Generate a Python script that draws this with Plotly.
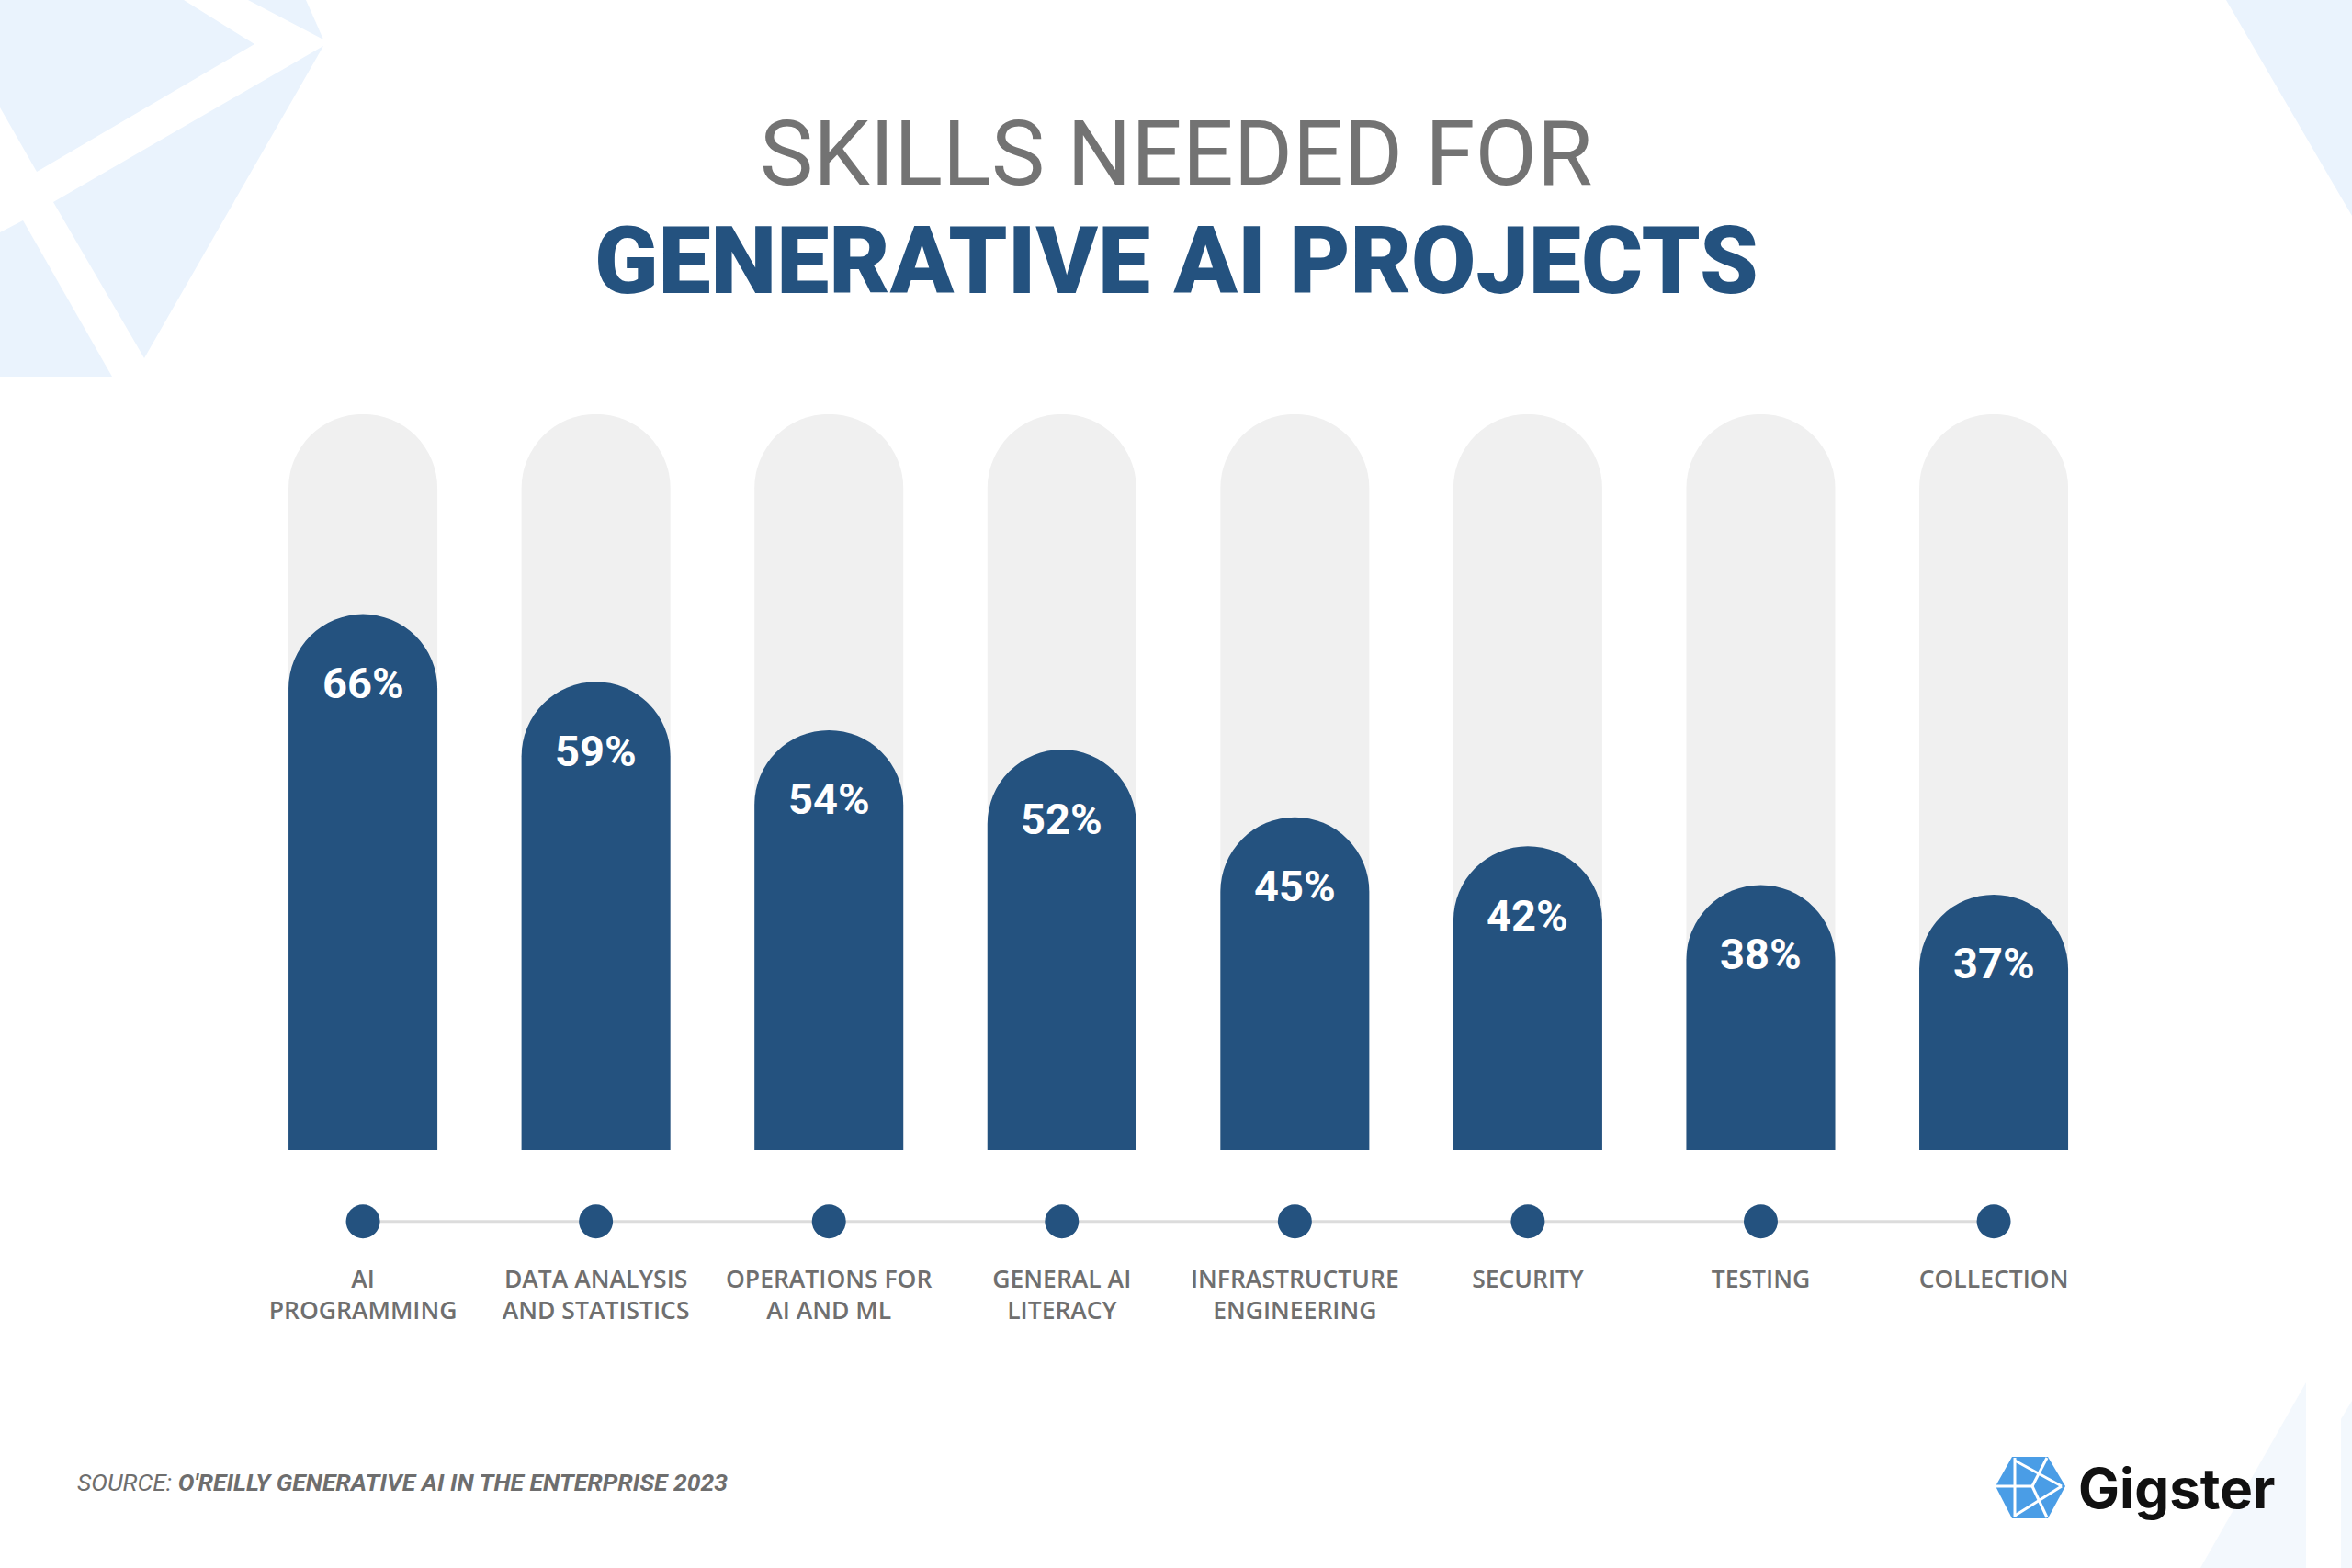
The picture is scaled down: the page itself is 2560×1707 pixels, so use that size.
import plotly.graph_objects as go

# ---------------- data ----------------
skills = ["AI Programming", "Data Analysis and Statistics", "Operations for AI and ML",
          "General AI Literacy", "Infrastructure Engineering", "Security", "Testing", "Collection"]
skill_labels = ["AI<br>PROGRAMMING", "DATA ANALYSIS<br>AND STATISTICS", "OPERATIONS FOR<br>AI AND ML",
                "GENERAL AI<br>LITERACY", "INFRASTRUCTURE<br>ENGINEERING", "SECURITY", "TESTING", "COLLECTION"]
values = [66, 59, 54, 52, 45, 42, 38, 37]
value_text = [f"{v}%" for v in values]

# ---------------- styling constants ----------------
W, H = 2560, 1707
NAVY = "#24527f"
TRACK = "#f0f0f0"
GRAY_TXT = "#6f6f6f"
Y_MIN, Y_MAX = 10.6, 86.7          # visible value window of the bar area
track = [Y_MAX] * len(values)      # full-height grey track behind each bar
DOT_LEVEL = 0.829                  # level of the dot rail in the lower strip (0..1)
LABEL_LEVEL = 0.714                # top of the category labels

X_DOM = [0.1048, 0.8972]
Y_DOM = [0.2666, 0.7360]


def px(x, y):
    return f"{x / W:.5f},{1 - y / H:.5f}"


def poly(points):
    return "M " + " L ".join(px(x, y) for x, y in points) + " Z"


fig = go.Figure()

fig.add_trace(go.Bar(x=skills, y=track, marker=dict(color=TRACK, line=dict(width=0)),
                     hoverinfo="skip", showlegend=False))
fig.add_trace(go.Bar(x=skills, y=values, yaxis="y3", marker=dict(color=NAVY, line=dict(width=0)),
                     showlegend=False))

# dot rail
fig.add_trace(go.Scatter(x=skills, y=[DOT_LEVEL] * len(skills), yaxis="y2", mode="lines+markers",
                         line=dict(color="#dcdcdc", width=3),
                         marker=dict(size=37, color=NAVY), hoverinfo="skip", showlegend=False))
# category labels
fig.add_trace(go.Scatter(x=skills, y=[LABEL_LEVEL] * len(skills), yaxis="y2", mode="text",
                         text=skill_labels, textposition="bottom center",
                         textfont=dict(family="Open Sans", size=26.5, color=GRAY_TXT, weight=600),
                         hoverinfo="skip", showlegend=False))

annotations = []
for s, v, t in zip(skills, values, value_text):
    annotations.append(dict(x=s, y=v, xref="x", yref="y3", text=t, showarrow=False,
                            yshift=-75, yanchor="middle",
                            font=dict(family="Roboto", size=47, color="white", weight=700)))

annotations += [
    dict(x=0.5, y=1 - 168 / H, xref="paper", yref="paper", text="SKILLS NEEDED FOR",
         showarrow=False, yanchor="middle",
         font=dict(family="Roboto", size=98, color="#737373", weight=400)),
    dict(x=0.5, y=1 - 284 / H, xref="paper", yref="paper", text="GENERATIVE AI PROJECTS",
         showarrow=False, yanchor="middle",
         font=dict(family="Roboto", size=102, color=NAVY, weight=900)),
    dict(x=82 / W, y=1 - 1613 / H, xref="paper", yref="paper", xanchor="left", yanchor="middle",
         text="<i>SOURCE: <b>O'REILLY GENERATIVE AI IN THE ENTERPRISE 2023</b></i>", showarrow=False,
         font=dict(family="Roboto", size=26.5, color="#6e6e6e")),
    dict(x=2260 / W, y=1 - 1620 / H, xref="paper", yref="paper", xanchor="left", yanchor="middle",
         text="<b>Gigster</b>", showarrow=False,
         font=dict(family="Inter", size=60, color="#111111")),
]

LB = "#eaf3fd"
shapes = [
    # top-left decorative facets
    dict(type="path", path=poly([(0, 0), (200, 0), (277, 48), (40, 187), (0, 117)])),
    dict(type="path", path=poly([(58, 220), (352, 50), (157, 390)])),
    dict(type="path", path=poly([(0, 253), (25, 240), (122, 410), (0, 410)])),
    dict(type="path", path=poly([(270, 0), (333, 0), (352, 43)])),
    # top-right facet
    dict(type="path", path=poly([(2423, 0), (2560, 0), (2560, 235)])),
    # bottom-right facets
    dict(type="path", path=poly([(2395, 1707), (2510, 1505), (2510, 1707)]), fillcolor="#f3f8fd"),
    dict(type="path", path=poly([(2548, 1545), (2560, 1525), (2560, 1707), (2548, 1707)]), fillcolor="#f3f8fd"),
]
for sh in shapes:
    sh.setdefault("fillcolor", LB)
    sh.update(xref="paper", yref="paper", line=dict(width=0), layer="below")

# Gigster logo icon
shapes.append(dict(type="path", xref="paper", yref="paper", fillcolor="#4a9de6", line=dict(width=0),
                   path=poly([(2172, 1618), (2190, 1586), (2229, 1586), (2248, 1618), (2229, 1653), (2190, 1653)])))
for a, b in [((2193, 1587), (2193, 1652)), ((2172, 1618), (2212, 1618)), ((2193, 1590), (2244, 1618)),
             ((2212, 1618), (2228, 1587)), ((2212, 1618), (2228, 1652)), ((2193, 1650), (2244, 1618))]:
    shapes.append(dict(type="line", xref="paper", yref="paper",
                       x0=a[0] / W, y0=1 - a[1] / H, x1=b[0] / W, y1=1 - b[1] / H,
                       line=dict(color="white", width=3)))

fig.update_layout(
    width=W, height=H, margin=dict(l=0, r=0, t=0, b=0),
    paper_bgcolor="white", plot_bgcolor="rgba(0,0,0,0)",
    barmode="overlay", bargap=0.361, barcornerradius="50%",
    xaxis=dict(domain=X_DOM, showticklabels=False, showgrid=False, zeroline=False,
               showline=False, ticks="", fixedrange=True),
    yaxis=dict(domain=Y_DOM, range=[Y_MIN, Y_MAX], visible=False, fixedrange=True),
    yaxis3=dict(domain=Y_DOM, range=[Y_MIN, Y_MAX], visible=False, overlaying="y",
                anchor="x", fixedrange=True),
    yaxis2=dict(domain=[0, Y_DOM[0]], range=[0, 1], visible=False, anchor="x", fixedrange=True),
    annotations=annotations, shapes=shapes,
)

fig.write_html("out.html", config={"displayModeBar": False},
               post_script="document.body.style.margin='0';document.body.style.overflow='hidden';")
